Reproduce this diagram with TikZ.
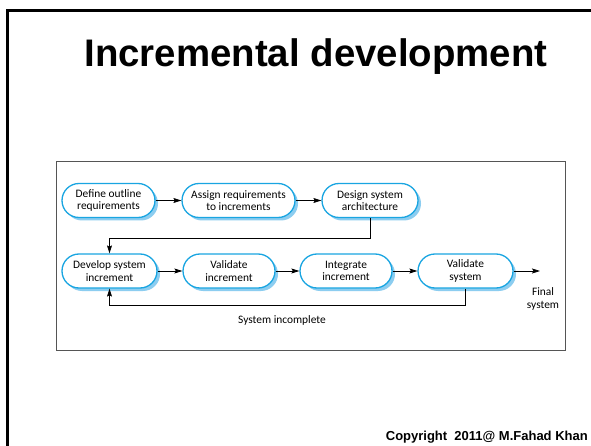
\documentclass[tikz,border=0pt]{standalone}
\usepackage{fontspec}
\setmainfont{Liberation Sans}
\newfontfamily\boxfont{Carlito}
\usetikzlibrary{arrows.meta,shadows}
\definecolor{boxblue}{RGB}{25,165,225}
\definecolor{shadowblue}{RGB}{140,205,240}
\definecolor{framegray}{RGB}{85,85,85}
\tikzset{
  act/.style={draw=boxblue, line width=1.3pt, fill=white, rounded corners=17pt,
    minimum height=34pt, inner sep=0pt, align=center,
    font=\boxfont\fontsize{11.4}{12.5}\selectfont,
    general shadow={fill=shadowblue, shadow xshift=3pt, shadow yshift=-3pt}},
  flow/.style={line width=0.8pt, -{Stealth[length=8pt,width=5pt,inset=1.5pt]}},
  lbl/.style={font=\boxfont\fontsize{11.4}{12.5}\selectfont, align=center, inner sep=0pt}
}
\begin{document}
\begin{tikzpicture}[x=1pt,y=-1pt]
\useasboundingbox (0,0) rectangle (591,446);
\fill[white] (0,0) rectangle (591,446);
% slide border
\draw[line width=2.6pt, line cap=rect] (7.5,446) -- (7.5,10.5) -- (591,10.5);
% title
\node[font=\bfseries\fontsize{38.4}{40}\selectfont, inner sep=0pt] (title) at (316,57) {Incremental development};
% frame
\draw[framegray, line width=1pt] (56,162) rectangle (565,350);
% nodes
\node[act, minimum width=93pt] (n1) at (108.5,200.5) {Define outline\\requirements};
\node[act, minimum width=113pt] (n2) at (238.5,200.5) {Assign requirements\\to increments};
\node[act, minimum width=96pt] (n3) at (370,200.5) {Design system\\architecture};
\node[act, minimum width=95pt] (n4) at (109.5,271) {Develop system\\increment};
\node[act, minimum width=92pt] (n5) at (229,271) {Validate\\increment};
\node[act, minimum width=92pt] (n6) at (346,271) {Integrate\\increment};
\node[act, minimum width=95pt] (n7) at (465.5,271) {Validate\\system};
\coordinate (fin) at (540,271);
\node[lbl] (final) at (543,299) {Final\\system};
\node[lbl] (inc) at (282,320) {System incomplete};
% connectors
\draw[flow] (n1) -- (n2);
\draw[flow] (n2) -- (n3);
\draw[flow] (n3.south) -- (370,238) -| (n4.north);
\draw[flow] (n4) -- (n5);
\draw[flow] (n5) -- (n6);
\draw[flow] (n6) -- (n7);
\draw[flow] (n7) -- (fin);
\draw[flow] (n7.south) -- (465.5,305) -| (n4.south);
% copyright
\node[font=\bfseries\fontsize{13}{15}\selectfont, anchor=base east, inner sep=0pt] (copy) at (588,440) {Copyright\ \ 2011@ M.Fahad Khan};
\end{tikzpicture}
\end{document}
